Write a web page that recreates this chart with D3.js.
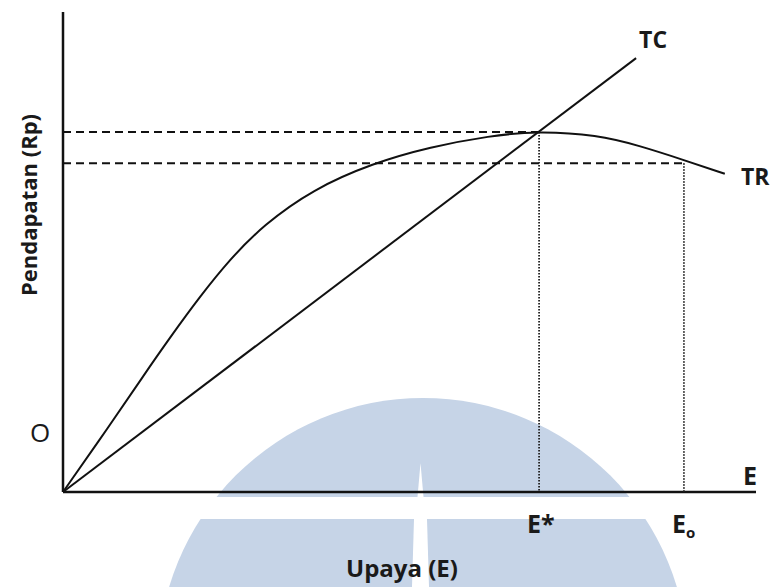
<!DOCTYPE html>
<html>
<head>
<meta charset="utf-8">
<script src="https://cdn.jsdelivr.net/npm/d3@7"></script>
<style>
    body { margin: 0; background: #fff; }
    text { font-family: "Open Sans", sans-serif; fill: #1a1a1a; }
</style>
</head>
<body>
<div id="chart-container"></div>
<script>
// total revenue curve (effort E, revenue Rp)
const trEffort = [0, 0.68, 1.15, 1.54, 1.98, 2.41, 2.89, 3.61, 4.47, 5.30, 6.16, 6.84, 7.71, 8.33, 8.95, 9.55];
const trRevenue = [0, 1.40, 2.40, 3.21, 4.08, 4.85, 5.56, 6.31, 6.85, 7.19, 7.42, 7.52, 7.44, 7.21, 6.92, 6.63];

// total cost line
const tcEffort = [0, 8.27];
const tcCost = [0, 9.04];

// reference points: E* (max profit) and Eo (open access)
const refLabels = ['E*', 'E'];
const refEffort = [6.87, 8.96];
const refRevenue = [7.50, 6.85];

function createChart(elementId) {
    const width = 772;
    const height = 587;

    const svg = d3.select(elementId).append('svg')
        .attr('width', width)
        .attr('height', height);

    const x = d3.scaleLinear().domain([0, 10]).range([63, 756]);
    const y = d3.scaleLinear().domain([0, 10]).range([492, 12]);

    // faint logo watermark behind the chart
    const mark = svg.append('g').attr('class', 'watermark');
    mark.append('circle')
        .attr('cx', 423).attr('cy', 663).attr('r', 265)
        .attr('fill', '#c6d4e7');
    mark.append('rect')
        .attr('x', 140).attr('y', 497).attr('width', 580).attr('height', 22)
        .attr('fill', '#fff');
    mark.append('polygon')
        .attr('points', '420.5,463 417.5,497 423.5,497')
        .attr('fill', '#fff');
    mark.append('polygon')
        .attr('points', '414,519 427,519 429,587 412,587')
        .attr('fill', '#fff');

    // axes (plain lines, no ticks)
    svg.append('line')
        .attr('x1', x(0)).attr('y1', y(0))
        .attr('x2', x(0)).attr('y2', y(10))
        .attr('stroke', '#111').attr('stroke-width', 2.5);
    svg.append('line')
        .attr('x1', x(0)).attr('y1', y(0))
        .attr('x2', x(10)).attr('y2', y(0))
        .attr('stroke', '#111').attr('stroke-width', 2.5);

    // dashed revenue levels
    svg.selectAll('.level')
        .data(refEffort)
        .join('line')
        .attr('class', 'level')
        .attr('x1', x(0))
        .attr('x2', d => x(d))
        .attr('y1', (d, i) => y(refRevenue[i]))
        .attr('y2', (d, i) => y(refRevenue[i]))
        .attr('stroke', '#111')
        .attr('stroke-width', 2)
        .attr('stroke-dasharray', '8,5');

    // dotted drop lines
    svg.selectAll('.drop')
        .data(refEffort)
        .join('line')
        .attr('class', 'drop')
        .attr('x1', d => x(d))
        .attr('x2', d => x(d))
        .attr('y1', (d, i) => y(refRevenue[i]))
        .attr('y2', y(0))
        .attr('stroke', '#222')
        .attr('stroke-width', 1.8)
        .attr('stroke-dasharray', '1.5,1.5');

    const line = d3.line()
        .x(d => x(d[0]))
        .y(d => y(d[1]));

    // TR curve
    svg.append('path')
        .datum(d3.zip(trEffort, trRevenue))
        .attr('d', line.curve(d3.curveBasis))
        .attr('fill', 'none')
        .attr('stroke', '#111')
        .attr('stroke-width', 2);

    // TC line
    svg.append('path')
        .datum(d3.zip(tcEffort, tcCost))
        .attr('d', line.curve(d3.curveLinear))
        .attr('fill', 'none')
        .attr('stroke', '#111')
        .attr('stroke-width', 2);

    // curve labels
    svg.append('text')
        .attr('x', x(tcEffort[1]) + 3).attr('y', 48)
        .style('font-size', '23px').style('font-weight', 700)
        .text('TC');
    svg.append('text')
        .attr('x', 741).attr('y', 185)
        .style('font-size', '23px').style('font-weight', 700)
        .text('TR');

    // axis end labels
    svg.append('text')
        .attr('x', 743).attr('y', 485)
        .style('font-size', '25px').style('font-weight', 700)
        .text('E');
    svg.append('text')
        .attr('x', 30).attr('y', 442)
        .style('font-size', '26px')
        .text('O');

    // labels under the drop lines
    const refText = svg.selectAll('.ref-label')
        .data(refLabels)
        .join('text')
        .attr('class', 'ref-label')
        .attr('x', (d, i) => x(refEffort[i]) - 12)
        .attr('y', 533)
        .style('font-size', '25px')
        .style('font-weight', 700)
        .text(d => d);
    refText.filter((d, i) => i === 1)
        .append('tspan')
        .attr('dy', 5)
        .style('font-size', '15px')
        .text('o');

    // axis titles
    svg.append('text')
        .attr('x', 402).attr('y', 577)
        .attr('text-anchor', 'middle')
        .style('font-size', '24px').style('font-weight', 700)
        .text('Upaya (E)');
    svg.append('text')
        .attr('transform', 'translate(37,205) rotate(-90)')
        .attr('text-anchor', 'middle')
        .style('font-size', '22px').style('font-weight', 700)
        .text('Pendapatan (Rp)');
}

createChart('#chart-container');
</script>
</body>
</html>
